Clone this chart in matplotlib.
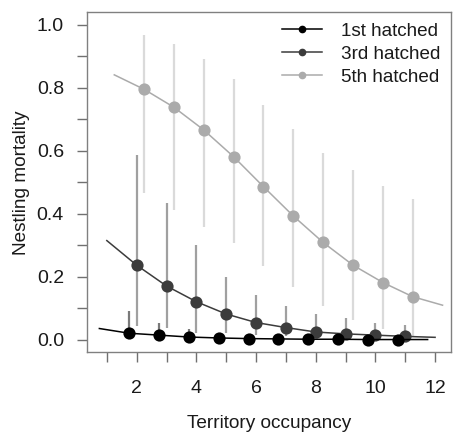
import numpy as np
import matplotlib.pyplot as plt

plt.rcParams['font.family'] = ['Liberation Sans', 'DejaVu Sans']

# territory occupancy (point positions before offset)
occ = np.arange(2, 12)
# fitted curves drawn from 1 to 12
occ_line = np.arange(1, 13)

# 1st hatched
m1 = [0.021, 0.015, 0.009, 0.006, 0.004, 0.003, 0.002, 0.002, 0.001, 0.001]
hi1 = [0.091, 0.055, 0.034, 0.020, 0.014, 0.010, 0.008, 0.006, 0.005, 0.004]
lo1 = [0.003, 0.002, 0.001, 0.001, 0.001, 0.0, 0.0, 0.0, 0.0, 0.0]
line1 = [0.036, 0.021, 0.015, 0.009, 0.006, 0.004, 0.003, 0.002, 0.002, 0.001, 0.001, 0.001]

# 3rd hatched
m3 = [0.237, 0.171, 0.121, 0.082, 0.055, 0.039, 0.025, 0.019, 0.015, 0.011]
hi3 = [0.586, 0.434, 0.302, 0.201, 0.142, 0.106, 0.082, 0.068, 0.055, 0.047]
lo3 = [0.044, 0.038, 0.023, 0.021, 0.016, 0.012, 0.008, 0.006, 0.004, 0.003]
line3 = [0.315, 0.237, 0.171, 0.121, 0.082, 0.055, 0.039, 0.025, 0.019, 0.015, 0.011, 0.008]

# 5th hatched
m5 = [0.795, 0.738, 0.666, 0.581, 0.486, 0.393, 0.309, 0.237, 0.182, 0.137]
hi5 = [0.966, 0.939, 0.892, 0.827, 0.744, 0.668, 0.594, 0.539, 0.488, 0.446]
lo5 = [0.467, 0.412, 0.359, 0.307, 0.235, 0.167, 0.106, 0.063, 0.034, 0.012]
line5 = [0.841, 0.795, 0.738, 0.666, 0.581, 0.486, 0.393, 0.309, 0.237, 0.182, 0.137, 0.110]

series = [
    ('1st hatched', -0.25, m1, lo1, hi1, line1, 'black', '#7a7a7a', 5),
    ('3rd hatched', 0.0, m3, lo3, hi3, line3, '#3c3c3c', '#a0a0a0', 4),
    ('5th hatched', 0.25, m5, lo5, hi5, line5, '#ababab', '#dadada', 3),
]

fig = plt.figure(figsize=(4.57, 4.33), dpi=100)
ax = fig.add_axes([0.19, 0.186, 0.796, 0.786])

handles = []
for name, off, m, lo, hi, ln, col, ecol, z in series:
    ax.vlines(occ + off, lo, hi, color=ecol, lw=1.6, zorder=1)
    ax.plot(occ_line + off, ln, color=col, lw=1.1, zorder=z)
    ax.plot(occ + off, m, 'o', color=col, ms=8.8, mec='none', zorder=z)
    h, = ax.plot([], [], '-o', color=col, lw=1.1, ms=4.5, label=name)
    handles.append(h)

ax.set_xlim(0.33, 12.52)
ax.set_ylim(-0.04, 1.04)
ax.set_xticks(range(1, 13))
ax.set_xticklabels(['' if i % 2 else str(i) for i in range(1, 13)])
yt = np.arange(0, 1.01, 0.1)
ax.set_yticks(yt)
ax.set_yticklabels(['%.1f' % v if i % 2 == 0 else '' for i, v in enumerate(yt)])
ax.tick_params(colors='#707070', labelcolor='#1a1a1a', labelsize=14, length=7.5, width=1)
ax.tick_params(axis='x', pad=12)
ax.tick_params(axis='y', pad=9)
for s in ax.spines.values():
    s.set_color('#808080')
    s.set_linewidth(1)

ax.set_xlabel('Territory occupancy', fontsize=13.7, color='#1a1a1a', labelpad=13)
ax.set_ylabel('Nestling mortality', fontsize=13.7, color='#1a1a1a', labelpad=5)

ax.legend(handles=handles, loc='upper right', frameon=False, fontsize=13.6,
          handlelength=2.1, handletextpad=1.0, labelspacing=0.3,
          borderaxespad=0.15, labelcolor='#1a1a1a')

fig.savefig('out.png', dpi=100)
